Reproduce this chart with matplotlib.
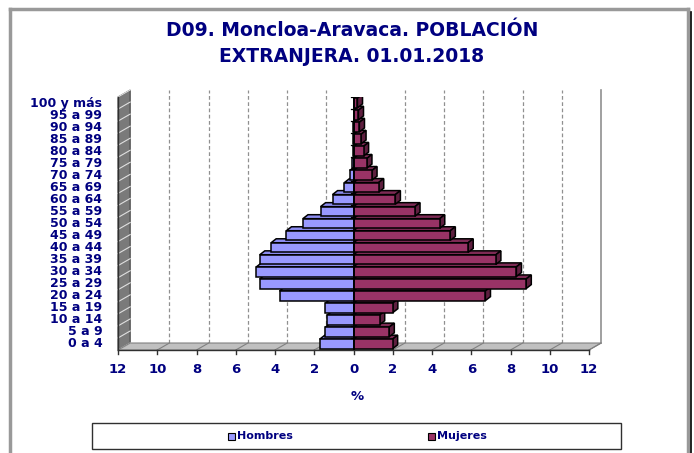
import numpy as np
import matplotlib.pyplot as plt
from matplotlib.patches import Polygon, Rectangle
from matplotlib.lines import Line2D

# Age groups (bottom to top) and percentages
edades = ["0 a 4", "5 a 9", "10 a 14", "15 a 19", "20 a 24", "25 a 29", "30 a 34",
          "35 a 39", "40 a 44", "45 a 49", "50 a 54", "55 a 59", "60 a 64", "65 a 69",
          "70 a 74", "75 a 79", "80 a 84", "85 a 89", "90 a 94", "95 a 99", "100 y más"]
hombres = [1.72, 1.43, 1.34, 1.43, 3.77, 4.78, 4.95, 4.78, 4.20, 3.42, 2.58,
           1.68, 1.07, 0.46, 0.19, 0.06, 0.03, 0.02, 0.01, 0.0, 0.0]
mujeres = [1.99, 1.82, 1.33, 2.00, 6.72, 8.80, 8.30, 7.25, 5.84, 4.93, 4.39,
           3.13, 2.13, 1.28, 0.94, 0.68, 0.51, 0.38, 0.30, 0.25, 0.20]
xticks = [-12, -10, -8, -6, -4, -2, 0, 2, 4, 6, 8, 10, 12]

W, H = 694, 453
navy = "#000080"
c_h, c_h_top = "#9999ff", "#8c8cf0"
c_m, c_m_top, c_m_side = "#993366", "#7d2a54", "#5e1f3f"

fig = plt.figure(figsize=(W / 100, H / 100), dpi=100)
plt.rcParams['font.family'] = 'DejaVu Sans'


def fx(px):
    return px / W


def fy(py):
    return 1 - py / H


# front plane: x -12..12 -> 118..589 px, rows -0.5..20.5 -> 350..97 px
ax = fig.add_axes([fx(118), fy(350), fx(589) - fx(118), fy(97) - fy(350)])
ax.set_xlim(-12, 12)
ax.set_ylim(-0.5, 20.5)
ax.axis("off")

# depth offsets (data units)
bdx, bdy = 0.26, 0.33      # bars
wdx, wdy = 0.62, 0.58      # walls / floor
n = len(edades)
y = np.arange(n)

# left wall
ax.add_patch(Polygon([(-12, -0.5), (-12 + wdx, -0.5 + wdy), (-12 + wdx, 20.5 + wdy), (-12, 20.5)],
                     closed=True, facecolor="#7a7a7a", edgecolor="#404040", lw=0.8, clip_on=False, zorder=1))
for k in range(n + 1):
    yy = -0.5 + k
    ax.plot([-12, -12 + wdx], [yy, yy + wdy], color="#e0e0e0", lw=0.8, clip_on=False, zorder=1.1)
# floor
ax.add_patch(Polygon([(-12, -0.5), (12, -0.5), (12 + wdx, -0.5 + wdy), (-12 + wdx, -0.5 + wdy)],
                     closed=True, facecolor="#c0c0c0", edgecolor="#808080", lw=0.8, clip_on=False, zorder=1))
for t in xticks:
    ax.plot([t, t + wdx], [-0.5, -0.5 + wdy], color="#808080", lw=0.8, clip_on=False, zorder=1.1)
# back wall gridlines
for t in xticks[1:-1]:
    if t == 0:
        continue
    ax.plot([t + wdx, t + wdx], [-0.5 + wdy, 20.5 + wdy], color="#909090", lw=0.9,
            ls=(0, (3, 2)), clip_on=False, zorder=0.5)
ax.plot([12 + wdx, 12 + wdx], [-0.5 + wdy, 20.5 + wdy], color="#909090", lw=1.2, clip_on=False, zorder=0.5)

# axes lines with ticks
ax.plot([-12, 12], [-0.5, -0.5], color="#303030", lw=1, clip_on=False, zorder=2)
for t in xticks:
    ax.plot([t, t], [-0.5, -0.85], color="#303030", lw=1, clip_on=False, zorder=2)
    ax.text(t, -2.1, str(abs(t)), ha="center", va="center", fontsize=9.5,
            fontweight="bold", color=navy)
ax.plot([-12, -12], [-0.5, 20.5], color="#303030", lw=1, clip_on=False, zorder=2)
for k in range(n):
    ax.text(-12.8, y[k], edades[k], ha="right", va="center", fontsize=9,
            fontweight="bold", color=navy)

# bars, bottom to top so upper fronts cover lower top faces
h = 0.8
for i in range(n):
    bot, top = y[i] - h / 2, y[i] + h / 2
    z = 3 + i * 0.01
    m = hombres[i]
    w = mujeres[i]
    if m > 0:
        ax.add_patch(Polygon([(-m, top), (-m + bdx, top + bdy), (bdx, top + bdy), (0, top)],
                             closed=True, facecolor=c_h_top, edgecolor="black", lw=1.1, zorder=z))
    if w > 0:
        ax.add_patch(Polygon([(0, top), (bdx, top + bdy), (w + bdx, top + bdy), (w, top)],
                             closed=True, facecolor=c_m_top, edgecolor="black", lw=1.1, zorder=z))
        ax.add_patch(Polygon([(w, bot), (w, top), (w + bdx, top + bdy), (w + bdx, bot + bdy)],
                             closed=True, facecolor=c_m_side, edgecolor="black", lw=1.1, zorder=z))
    ax.barh(y[i], -m, height=h, color=c_h, edgecolor="black", lw=1.1, zorder=z + 0.005)
    ax.barh(y[i], w, height=h, left=0, color=c_m, edgecolor="black", lw=1.1, zorder=z + 0.005)

# zero axis
ax.plot([0, 0], [-0.5, 20.5], color="black", lw=1.3, zorder=5)
for k in range(n + 1):
    ax.plot([-0.15, 0], [-0.5 + k, -0.5 + k], color="black", lw=0.9, zorder=5)

# titles
fig.text(fx(352), fy(30), "D09. Moncloa-Aravaca. POBLACIÓN", ha="center", va="center",
         fontsize=13.5, fontweight="bold", color=navy)
fig.text(fx(352), fy(57), "EXTRANJERA. 01.01.2018", ha="center", va="center",
         fontsize=13.5, fontweight="bold", color=navy)
fig.text(fx(357), fy(397), "%", ha="center", va="center", fontsize=9.5,
         fontweight="bold", color=navy)

# legend box
fig.add_artist(Rectangle((fx(92), fy(449)), fx(621) - fx(92), fy(423) - fy(449),
                         facecolor="white", edgecolor="#303030", lw=1, transform=fig.transFigure))
for px, lab, col in [(232, "Hombres", c_h), (432, "Mujeres", c_m)]:
    fig.add_artist(Rectangle((fx(px - 4), fy(440)), fx(7), fy(433) - fy(440), facecolor=col,
                             edgecolor="black", lw=0.8, transform=fig.transFigure))
    fig.text(fx(px + 5), fy(436), lab, ha="left", va="center", fontsize=8,
             fontweight="bold", color=navy)

# outer frame
fig.add_artist(Line2D([fx(10), fx(10)], [fy(9), 0], color="#999999", lw=2.5))
fig.add_artist(Line2D([fx(10), fx(688)], [fy(9), fy(9)], color="#999999", lw=2.5))
fig.add_artist(Line2D([fx(688), fx(688)], [fy(9), 0], color="#999999", lw=2.5))
fig.add_artist(Line2D([fx(690.5), fx(690.5)], [fy(12), 0], color="black", lw=1.2))

fig.savefig("out.png", dpi=100)
